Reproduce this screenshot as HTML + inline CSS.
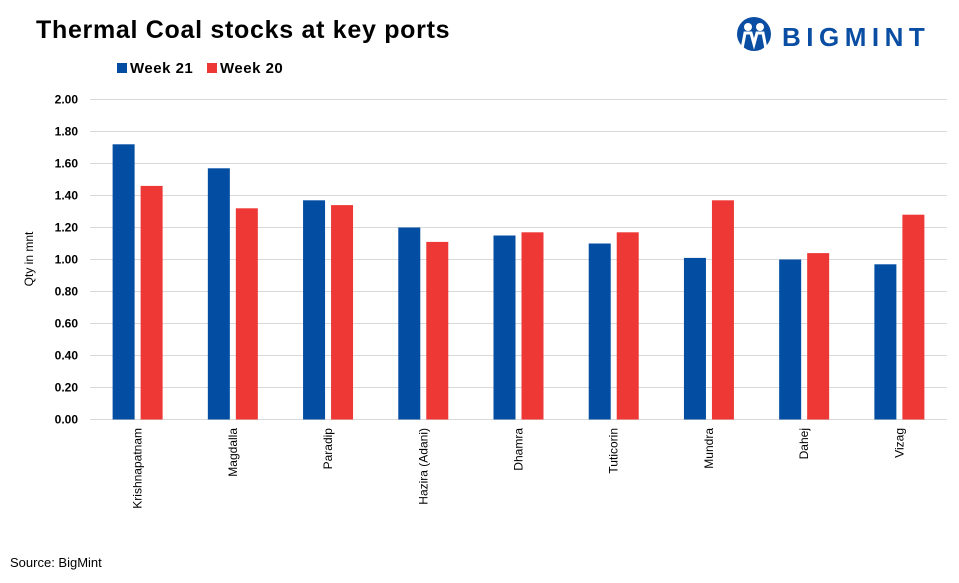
<!DOCTYPE html>
<html><head><meta charset="utf-8"><style>
body{margin:0;background:#fff;font-family:"Liberation Sans",sans-serif;}
</style></head><body>
<svg width="959" height="578" xmlns="http://www.w3.org/2000/svg" font-family="Liberation Sans, sans-serif">
<text x="36" y="38" font-size="25" font-weight="bold" fill="#000" letter-spacing="0.7">Thermal Coal stocks at key ports</text>
<g>
<circle cx="754" cy="34" r="17" fill="#0a4ea3"/>
<circle cx="748" cy="27" r="4" fill="#fff"/><circle cx="760" cy="27" r="4" fill="#fff"/>
<path d="M742 49 L745 33 L751 33 L754 44 L757 33 L763 33 L766 49" fill="none" stroke="#fff" stroke-width="3"/>
<text x="782" y="46" font-size="26" font-weight="bold" fill="#0a4ea3" letter-spacing="5.5">BIGMINT</text>
</g>
<g>
<rect x="117" y="63" width="10" height="10" fill="#034ea2"/>
<text x="130" y="73" font-size="15" font-weight="bold" letter-spacing="0.5">Week 21</text>
<rect x="207" y="63" width="10" height="10" fill="#ee3835"/>
<text x="220" y="73" font-size="15" font-weight="bold" letter-spacing="0.5">Week 20</text>
</g>
<text transform="translate(33,259) rotate(-90)" text-anchor="middle" font-size="12">Qty in mnt</text>
<g id="grid"></g><g id="bars"></g><g id="labels"></g>
<text x="10" y="567" font-size="13">Source: BigMint</text>
</svg>
<script>
const categories=["Krishnapatnam","Magdalla","Paradip","Hazira (Adani)","Dhamra","Tuticorin","Mundra","Dahej","Vizag"];
const week21=[1.72,1.57,1.37,1.20,1.15,1.10,1.01,1.00,0.97];
const week20=[1.46,1.32,1.34,1.11,1.17,1.17,1.37,1.04,1.28];
const yTicks=[0,0.2,0.4,0.6,0.8,1.0,1.2,1.4,1.6,1.8,2.0];
const NS="http://www.w3.org/2000/svg";
const L=90,R=947,Y0=419.5,PX=160;
const y=v=>Y0-v*PX;
const band=(R-L)/categories.length;
const x=i=>L+band*i+band/2;
function mk(t,a,p){const e=document.createElementNS(NS,t);for(const k in a)e.setAttribute(k,a[k]);p.appendChild(e);return e;}
const g=document.getElementById('grid'),b=document.getElementById('bars'),lb=document.getElementById('labels');
yTicks.forEach(v=>{
 const l=mk('line',{x1:L,x2:R,y1:y(v),y2:y(v),stroke:'#d9d9d9','stroke-width':1},g);
 
 
 const t=mk('text',{x:78,y:y(v)+4,'text-anchor':'end','font-size':12,'font-weight':'bold'},g);
 t.textContent=v.toFixed(2);
 
 
});
categories.forEach((c,i)=>{
 const cx=x(i);
 const r1=mk('rect',{x:cx-25,y:y(week21[i]),width:22,height:week21[i]*PX,fill:'#034ea2'},b);
 
 
 const r2=mk('rect',{x:cx+3,y:y(week20[i]),width:22,height:week20[i]*PX,fill:'#ee3835'},b);
 
 
 const t=mk('text',{transform:`translate(${cx+4},428) rotate(-90)`,'text-anchor':'end','font-size':12},lb);
 t.textContent=c;
 
 
});
</script>
</body></html>
